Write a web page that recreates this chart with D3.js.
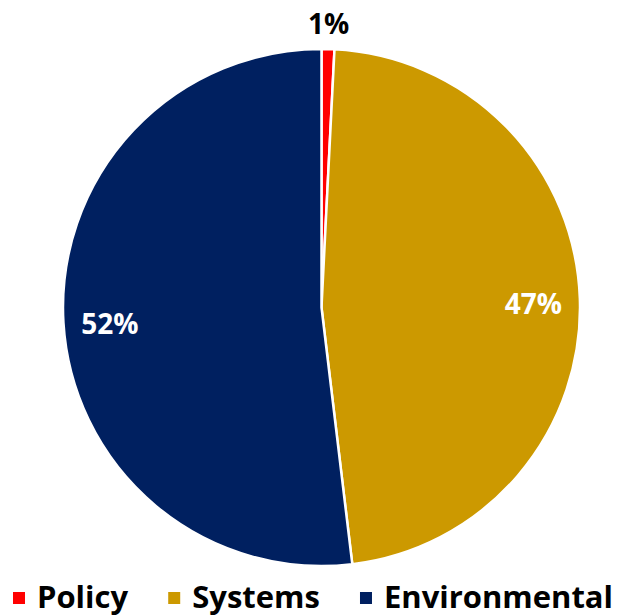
<!DOCTYPE html>
<html><head><meta charset="utf-8">
<script src="https://cdn.jsdelivr.net/npm/d3@7"></script>
<style>body{margin:0;background:#fff}svg{display:block}</style>
</head><body>
<svg id="chart" width="618" height="616"></svg>
<script>
const categories = ["Policy", "Systems", "Environmental"];
const values = [0.8, 47.3, 51.9];
const labels = ["1%", "47%", "52%"];
const colors = ["#FF0000", "#CC9900", "#002060"];

const W = 618, H = 616;
const cx = 321.5, cy = 307.5, r = 258.5;
const font = "'Open Sans', Lato, sans-serif";
const svg = d3.select("#chart");

const data = categories.map((c, i) => ({cat: c, value: values[i], label: labels[i], color: colors[i]}));
const pie = d3.pie().value(d => d.value).sort(null);
const arcs = pie(data);
const arc = d3.arc().innerRadius(0).outerRadius(r);
const labelArc = d3.arc().innerRadius(r * 0.82).outerRadius(r * 0.82);
const outerArc = d3.arc().innerRadius(r + 25).outerRadius(r + 25);

const g = svg.append("g").attr("transform", `translate(${cx},${cy})`);
g.selectAll("path").data(arcs).join("path")
  .attr("d", arc)
  .attr("fill", d => d.data.color)
  .attr("stroke", "#fff")
  .attr("stroke-width", 2.5)
  .attr("stroke-linejoin", "round");

g.selectAll("text.lbl").data(arcs).join("text")
  .attr("class", "lbl")
  .attr("transform", d => {
    const small = (d.endAngle - d.startAngle) < 0.2;
    const p = small ? outerArc.centroid(d) : labelArc.centroid(d);
    return `translate(${p[0]},${p[1] + (small ? 0 : 4)})`;
  })
  .attr("text-anchor", "middle")
  .attr("dy", "0.36em")
  .attr("font-family", font)
  .attr("font-weight", 700)
  .attr("font-size", 28)
  .attr("fill", d => (d.endAngle - d.startAngle) < 0.2 ? "#000" : "#fff")
  .text(d => d.data.label);

// legend
const lg = svg.append("g");
const items = lg.selectAll("g").data(data).join("g");
items.append("rect").attr("width", 12).attr("height", 12).attr("fill", d => d.color);
const texts = items.append("text")
  .attr("font-family", font).attr("font-weight", 700).attr("font-size", 28)
  .attr("fill", "#000").text(d => d.cat);
let widths = texts.nodes().map(n => n.getComputedTextLength());
const left = 13, right = 613, sq = 12, sqGap = 12, targetGap = 40;
const avail = right - left - data.length * (sq + sqGap) - (data.length - 1) * targetGap;
const fs = 28 * avail / d3.sum(widths);
texts.attr("font-size", fs);
widths = texts.nodes().map(n => n.getComputedTextLength());
const gap = (right - left - d3.sum(widths) - data.length * (sq + sqGap)) / (data.length - 1);
let x = left;
items.each(function(d, i) {
  const it = d3.select(this);
  it.select("rect").attr("x", x).attr("y", 592);
  it.select("text").attr("x", x + sq + sqGap).attr("y", 608);
  x += sq + sqGap + widths[i] + gap;
});
</script>
</body></html>
